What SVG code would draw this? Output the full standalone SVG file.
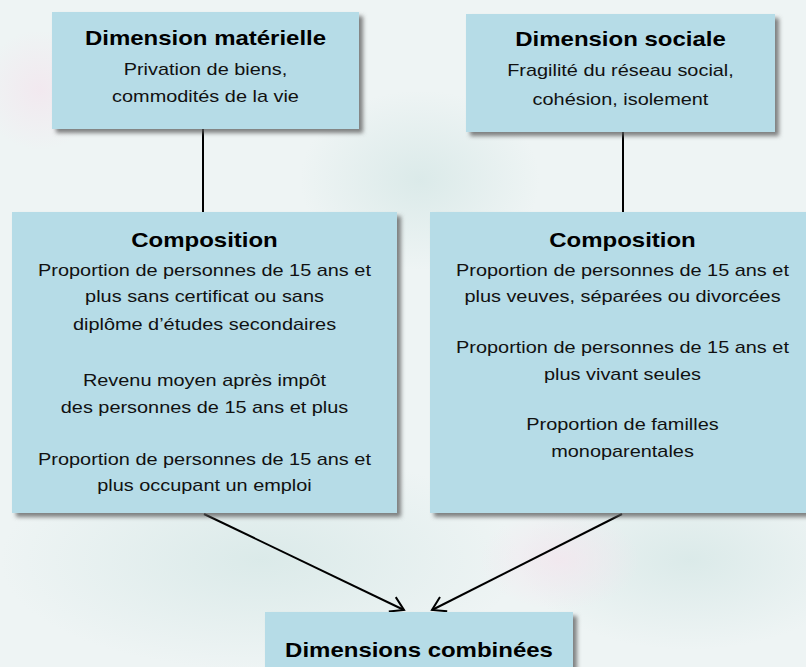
<svg xmlns="http://www.w3.org/2000/svg" width="806" height="667" viewBox="0 0 806 667">
  <defs>
    <style>
      .box { fill: #b6dce7; filter: url(#shadow); }
      .title { font-family: "Liberation Sans", Arial, sans-serif; font-weight: bold; font-size: 20.5px; fill: #000; text-anchor: middle; }
      .body { font-family: "Liberation Sans", Arial, sans-serif; font-size: 17px; fill: #111; text-anchor: middle; }
      .conn { stroke: #000; stroke-width: 2; fill: none; }
    </style>
    <filter id="shadow" x="-10%" y="-10%" width="125%" height="130%">
      <feDropShadow dx="4" dy="4" stdDeviation="2.2" flood-color="#5a5a5a" flood-opacity="0.75"/>
    </filter>
    <marker id="arrow" viewBox="0 0 16 18" refX="14" refY="9" markerWidth="16" markerHeight="18" markerUnits="userSpaceOnUse" orient="auto">
      <path d="M1,1 L14,9 L1,17" fill="none" stroke="#000" stroke-width="2"/>
    </marker>
    <radialGradient id="blobA" cx="50%" cy="50%" r="50%">
      <stop offset="0" stop-color="#d9e9e8" stop-opacity="0.9"/>
      <stop offset="1" stop-color="#d9e9e8" stop-opacity="0"/>
    </radialGradient>
    <radialGradient id="blobB" cx="50%" cy="50%" r="50%">
      <stop offset="0" stop-color="#f3e6ee" stop-opacity="0.8"/>
      <stop offset="1" stop-color="#f3e6ee" stop-opacity="0"/>
    </radialGradient>
  </defs>

  <g id="background">
    <rect x="0" y="0" width="806" height="667" fill="#eef4f4"/>
    <ellipse cx="260" cy="560" rx="260" ry="110" fill="url(#blobA)"/>
    <ellipse cx="690" cy="560" rx="170" ry="90" fill="url(#blobA)"/>
    <ellipse cx="420" cy="180" rx="120" ry="90" fill="url(#blobA)"/>
    <ellipse cx="40" cy="90" rx="60" ry="60" fill="url(#blobB)"/>
    <ellipse cx="560" cy="560" rx="80" ry="50" fill="url(#blobB)"/>
  </g>

  <g id="connectors">
    <line class="conn" x1="203" y1="129" x2="203" y2="212"/>
    <line class="conn" x1="623" y1="132" x2="623" y2="212"/>
    <line class="conn" x1="204" y1="514" x2="404" y2="610" marker-end="url(#arrow)"/>
    <line class="conn" x1="622" y1="514" x2="432" y2="610" marker-end="url(#arrow)"/>
  </g>

  <g id="dimension-materielle">
    <rect class="box" x="52" y="12" width="307" height="117"/>
    <text class="title" transform="translate(205.5 0) scale(1.17 1)" x="0" y="45">Dimension matérielle</text>
    <text class="body" transform="translate(205.5 0) scale(1.17 1)" x="0" y="75">Privation de biens,</text>
    <text class="body" transform="translate(205.5 0) scale(1.17 1)" x="0" y="102.5">commodités de la vie</text>
  </g>

  <g id="dimension-sociale">
    <rect class="box" x="466" y="14" width="309" height="118"/>
    <text class="title" transform="translate(620.5 0) scale(1.17 1)" x="0" y="46.5">Dimension sociale</text>
    <text class="body" transform="translate(620.5 0) scale(1.17 1)" x="0" y="76.5">Fragilité du réseau social,</text>
    <text class="body" transform="translate(620.5 0) scale(1.17 1)" x="0" y="105">cohésion, isolement</text>
  </g>

  <g id="composition-materielle">
    <rect class="box" x="12" y="212" width="385" height="301"/>
    <g transform="translate(204.5 0) scale(1.17 1)">
      <text class="title" x="0" y="247">Composition</text>
      <text class="body" x="0" y="276">Proportion de personnes de 15 ans et</text>
      <text class="body" x="0" y="302.5">plus sans certificat ou sans</text>
      <text class="body" x="0" y="330">diplôme d’études secondaires</text>
      <text class="body" x="0" y="386">Revenu moyen après impôt</text>
      <text class="body" x="0" y="413">des personnes de 15 ans et plus</text>
      <text class="body" x="0" y="465">Proportion de personnes de 15 ans et</text>
      <text class="body" x="0" y="491.5">plus occupant un emploi</text>
    </g>
  </g>

  <g id="composition-sociale">
    <rect class="box" x="430" y="212" width="385" height="301"/>
    <g transform="translate(622.5 0) scale(1.17 1)">
      <text class="title" x="0" y="247">Composition</text>
      <text class="body" x="0" y="276">Proportion de personnes de 15 ans et</text>
      <text class="body" x="0" y="302">plus veuves, séparées ou divorcées</text>
      <text class="body" x="0" y="353.5">Proportion de personnes de 15 ans et</text>
      <text class="body" x="0" y="380">plus vivant seules</text>
      <text class="body" x="0" y="430">Proportion de familles</text>
      <text class="body" x="0" y="457">monoparentales</text>
    </g>
  </g>

  <g id="dimensions-combinees">
    <rect class="box" x="265" y="612" width="308" height="70"/>
    <text class="title" transform="translate(419 0) scale(1.17 1)" x="0" y="657">Dimensions combinées</text>
  </g>
</svg>
